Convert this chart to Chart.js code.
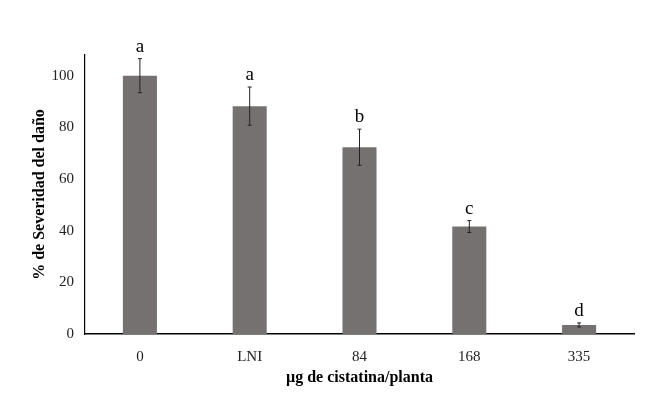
<!DOCTYPE html>
<html lang="es">
<head>
    <meta charset="UTF-8">
    <title>Severidad del daño</title>
    <script src="https://cdn.jsdelivr.net/npm/chart.js"></script>
    <style>
        html, body { margin: 0; padding: 0; background: #fff; }
        #wrap { width: 659px; height: 399px; }
    </style>
</head>
<body>
    <div id="wrap"><canvas id="chart" width="659" height="399"></canvas></div>
    <script>
        const categorias = ['0', 'LNI', '84', '168', '335'];
        const severidad = [100, 88.2, 72.3, 41.6, 3.5];
        const errores = [6.6, 7.4, 7.0, 2.3, 0.8];
        const letras = ['a', 'a', 'b', 'c', 'd'];
        const yTicks = [0, 20, 40, 60, 80, 100];

        const serif = "'Liberation Serif', 'DejaVu Serif', serif";

        // barras de error y letras de significancia
        const errorBars = {
            id: 'errorBars',
            afterDatasetsDraw(chart) {
                const ctx = chart.ctx;
                const y = chart.scales.y;
                const meta = chart.getDatasetMeta(0);
                ctx.save();
                meta.data.forEach((bar, i) => {
                    const x = bar.x;
                    const top = y.getPixelForValue(severidad[i] + errores[i]);
                    const bot = y.getPixelForValue(severidad[i] - errores[i]);
                    ctx.strokeStyle = '#222';
                    ctx.lineWidth = 1;
                    ctx.beginPath();
                    ctx.moveTo(x, top); ctx.lineTo(x, bot);
                    ctx.moveTo(x - 2, top); ctx.lineTo(x + 2, top);
                    ctx.moveTo(x - 2, bot); ctx.lineTo(x + 2, bot);
                    ctx.stroke();
                    ctx.fillStyle = '#000';
                    ctx.font = '19px ' + serif;
                    ctx.textAlign = 'center';
                    ctx.textBaseline = 'alphabetic';
                    ctx.fillText(letras[i], x, top - 7);
                });
                ctx.restore();
            }
        };

        new Chart(document.getElementById('chart'), {
            type: 'bar',
            data: {
                labels: categorias,
                datasets: [{
                    data: severidad,
                    backgroundColor: '#767171',
                    barPercentage: 0.31,
                    categoryPercentage: 1
                }]
            },
            options: {
                responsive: false,
                animation: false,
                layout: { padding: { top: 55, right: 25, left: 0, bottom: 0 } },
                plugins: {
                    legend: { display: false },
                    tooltip: { enabled: false }
                },
                scales: {
                    x: {
                        grid: { display: false, drawTicks: false },
                        border: { color: '#000', width: 1.5 },
                        ticks: { color: '#222', font: { family: serif, size: 15 }, padding: 14 },
                        title: {
                            display: true,
                            text: 'µg de cistatina/planta',
                            color: '#000',
                            font: { family: serif, size: 16, weight: 'bold' },
                            padding: { top: 0, bottom: 12 }
                        },
                        afterFit(scale) { scale.height = 65; }
                    },
                    y: {
                        min: 0,
                        max: 108,
                        grid: { display: false, drawTicks: false },
                        border: { color: '#000', width: 1.2 },
                        afterBuildTicks(scale) {
                            scale.ticks = yTicks.map(v => ({ value: v }));
                        },
                        ticks: { color: '#222', font: { family: serif, size: 15 }, padding: 11 },
                        title: {
                            display: true,
                            text: '% de Severidad del daño',
                            color: '#000',
                            font: { family: serif, size: 16, weight: 'bold' },
                            padding: { top: 30, bottom: 0 }
                        },
                        afterFit(scale) { scale.width = 85; }
                    }
                }
            },
            plugins: [errorBars]
        });
    </script>
</body>
</html>
